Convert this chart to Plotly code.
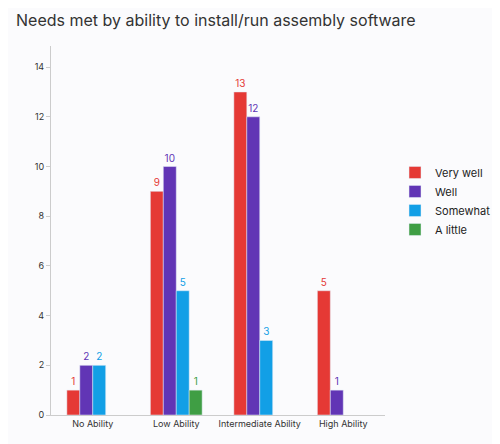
import plotly.graph_objects as go

categories = ["No Ability", "Low Ability", "Intermediate Ability", "High Ability"]
very_well = [1, 9, 13, 5]
well = [2, 10, 12, 1]
somewhat = [2, 5, 3, None]
a_little = [None, 1, None, None]

series = [("Very well", very_well, "#e53935"),
          ("Well", well, "#6135b5"),
          ("Somewhat", somewhat, "#129fe6"),
          ("A little", a_little, "#3f9e44")]

fig = go.Figure()
for name, vals, col in series:
    fig.add_trace(go.Bar(x=categories, y=vals, name=name, marker_color=col,
                         text=[str(v) if v is not None else "" for v in vals],
                         textposition="outside", cliponaxis=False,
                         textfont=dict(color=col, size=10)))

fig.update_layout(
    width=500, height=444,
    barmode="group", bargap=0.38, bargroupgap=0,
    paper_bgcolor="#fbfbfd", plot_bgcolor="#fbfbfd",
    font=dict(family="Inter, Roboto, sans-serif", color="#333", size=9),
    title=dict(text="Needs met by ability to install/run assembly software",
               x=0.016, y=0.985, xanchor="left", yanchor="top",
               font=dict(size=16, color="#333")),
    margin=dict(l=43, r=115, t=38, b=37),
    legend=dict(x=1.03, y=0.58, xanchor="left", yanchor="middle",
                font=dict(size=11, color="#222"), itemwidth=30,
                tracegroupgap=2),
    xaxis=dict(showline=True, linecolor="#ccc", ticks="", showgrid=False),
    yaxis=dict(range=[0, 14.85], dtick=2, showgrid=False, showline=True,
               linecolor="#ccc", ticks="outside", ticklen=4, tickcolor="#ccc",
               zeroline=False),
)

fig.write_html("out.html")
